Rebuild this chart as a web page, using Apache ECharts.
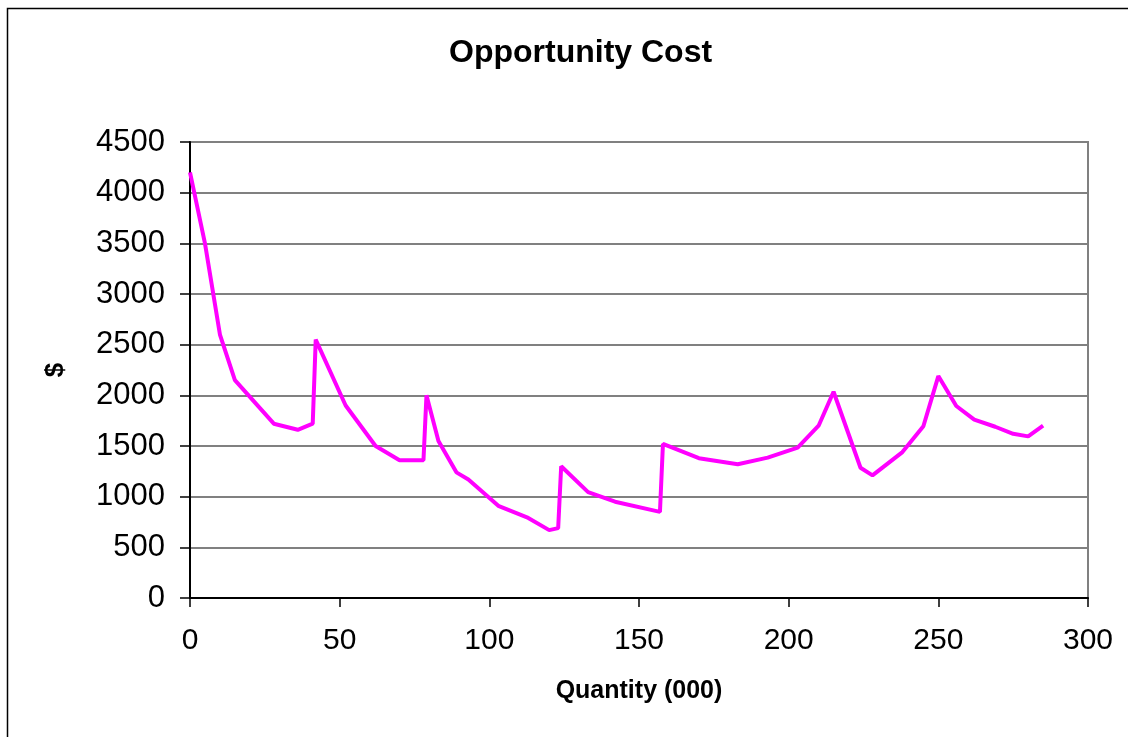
<!DOCTYPE html>
<html><head><meta charset="utf-8">
<script src="https://cdn.jsdelivr.net/npm/echarts@6/dist/echarts.min.js"></script>
<style>html,body{margin:0;padding:0;background:#fff}#c{width:1128px;height:737px}</style>
</head><body><div id="c"></div>
<script>
const quantity = [0, 5, 10, 15, 28, 36, 41, 42, 52, 62, 70, 78, 79, 83, 89, 93, 103, 113, 120, 123, 124, 133, 142, 157, 158, 170, 183, 193, 203, 210, 215, 224, 228, 238, 245, 250, 256, 262, 269, 275, 280, 285];
const cost = [4200, 3500, 2600, 2150, 1720, 1660, 1720, 2550, 1900, 1500, 1360, 1360, 2000, 1550, 1240, 1170, 910, 790, 670, 690, 1300, 1045, 950, 850, 1520, 1380, 1320, 1385, 1485, 1700, 2035, 1285, 1210, 1440, 1695, 2190, 1895, 1760, 1690, 1620, 1595, 1700];
const titleText = 'Opportunity Cost';
const xName = 'Quantity (000)';
const yName = '$';

const chart = echarts.init(document.getElementById('c'));
const font = 'Liberation Sans, Arial, sans-serif';
chart.setOption({
  animation: false,
  backgroundColor: '#fff',
  title: { text: titleText, left: 444, top: 32, textStyle: { fontFamily: font, fontSize: 32, fontWeight: 'bold', color: '#000' } },
  graphic: [{ type: 'rect', shape: { x: 7.5, y: 8.5, width: 1130, height: 740 }, style: { fill: 'none', stroke: '#000', lineWidth: 1.5 }, silent: true }],
  grid: { left: 190, top: 142, right: 40, bottom: 139, show: true, borderColor: '#808080', borderWidth: 2, backgroundColor: 'transparent' },
  xAxis: {
    type: 'value', min: 0, max: 300, interval: 50,
    name: xName, nameLocation: 'middle', nameGap: 81,
    nameTextStyle: { fontFamily: font, fontSize: 25, fontWeight: 'bold', color: '#000' },
    axisLine: { lineStyle: { color: '#000', width: 2 } },
    axisTick: { show: true, length: 9, lineStyle: { color: '#000', width: 1.5 } },
    axisLabel: { fontFamily: font, fontSize: 30, color: '#000', margin: 28 },
    splitLine: { show: false }
  },
  yAxis: {
    type: 'value', min: 0, max: 4500, interval: 500,
    name: yName, nameLocation: 'middle', nameGap: 121, nameRotate: 90,
    nameTextStyle: { fontFamily: font, fontSize: 26, fontWeight: 'bold', color: '#000' },
    axisLine: { show: true, lineStyle: { color: '#000', width: 2 } },
    axisTick: { show: true, length: 10, lineStyle: { color: '#000', width: 1.5 } },
    axisLabel: { fontFamily: font, fontSize: 31, color: '#000', margin: 25, formatter: v => String(v) },
    splitLine: { show: true, lineStyle: { color: '#808080', width: 2 } }
  },
  series: [{
    type: 'line', data: quantity.map((q, i) => [q, cost[i]]),
    symbol: 'none', lineStyle: { color: '#ff00ff', width: 4 }, itemStyle: { color: '#ff00ff' }
  }]
});
</script></body></html>
